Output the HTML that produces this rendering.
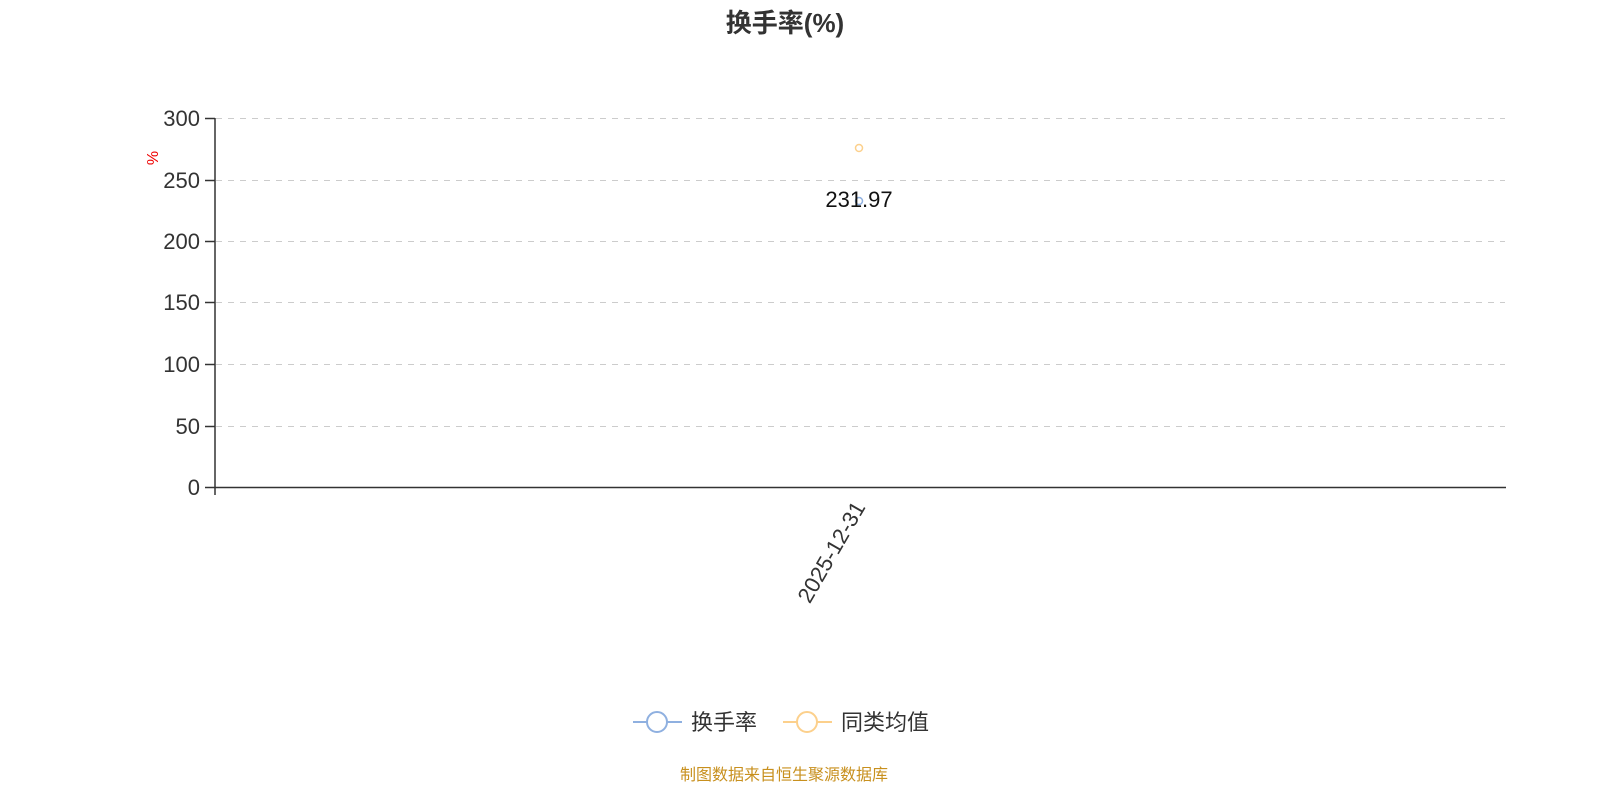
<!DOCTYPE html>
<html><head><meta charset="utf-8"><style>
html,body{margin:0;padding:0;background:#fff;width:1600px;height:800px;overflow:hidden}
svg text{font-family:"Liberation Sans","Noto Sans CJK SC",sans-serif}
</style></head><body>
<svg width="1600" height="800" viewBox="0 0 1600 800" xmlns="http://www.w3.org/2000/svg">
<text x="785" y="32" text-anchor="middle" font-size="26" font-weight="bold" fill="#333">换手率(%)</text>
<g stroke="#ccc" stroke-width="1" stroke-dasharray="6,6">
<line x1="216" y1="118.5" x2="1505" y2="118.5"/>
<line x1="216" y1="180.5" x2="1505" y2="180.5"/>
<line x1="216" y1="241.5" x2="1505" y2="241.5"/>
<line x1="216" y1="302.5" x2="1505" y2="302.5"/>
<line x1="216" y1="364.5" x2="1505" y2="364.5"/>
<line x1="216" y1="426.5" x2="1505" y2="426.5"/>
</g>
<g stroke="#333" stroke-width="1.5">
<line x1="215" y1="118" x2="215" y2="495"/>
<line x1="215" y1="487.5" x2="1506" y2="487.5"/>
<line x1="205" y1="118.5" x2="215" y2="118.5"/>
<line x1="205" y1="180.5" x2="215" y2="180.5"/>
<line x1="205" y1="241.5" x2="215" y2="241.5"/>
<line x1="205" y1="302.5" x2="215" y2="302.5"/>
<line x1="205" y1="364.5" x2="215" y2="364.5"/>
<line x1="205" y1="426.5" x2="215" y2="426.5"/>
<line x1="205" y1="487.5" x2="215" y2="487.5"/>
</g>
<g font-size="22" fill="#333" text-anchor="end">
<text x="200" y="126">300</text>
<text x="200" y="188">250</text>
<text x="200" y="249">200</text>
<text x="200" y="310">150</text>
<text x="200" y="372">100</text>
<text x="200" y="434">50</text>
<text x="200" y="495">0</text>
</g>
<text x="0" y="0" font-size="16" fill="#e00" transform="translate(158,158) rotate(-90)" text-anchor="middle">%</text>
<text x="0" y="0" font-size="22" fill="#333" text-anchor="end" transform="translate(866,507) rotate(-60)">2025-12-31</text>
<circle cx="859" cy="148" r="3.5" fill="#fff" stroke="#fcd08c" stroke-width="1.5"/>
<circle cx="859" cy="201" r="3.5" fill="#fff" stroke="#8fb0e0" stroke-width="1.5"/>
<text x="859" y="207" font-size="22" fill="#111" text-anchor="middle">231.97</text>
<line x1="633" y1="722" x2="682" y2="722" stroke="#8fb0e0" stroke-width="2"/>
<circle cx="657" cy="722" r="10" fill="#fff" stroke="#8fb0e0" stroke-width="2"/>
<text x="691" y="730" font-size="22" fill="#333">换手率</text>
<line x1="783" y1="722" x2="832" y2="722" stroke="#fcd08c" stroke-width="2"/>
<circle cx="807" cy="722" r="10" fill="#fff" stroke="#fcd08c" stroke-width="2"/>
<text x="841" y="730" font-size="22" fill="#333">同类均值</text>
<text x="784" y="780" font-size="16" fill="#c8901e" text-anchor="middle">制图数据来自恒生聚源数据库</text>
</svg>
</body></html>
